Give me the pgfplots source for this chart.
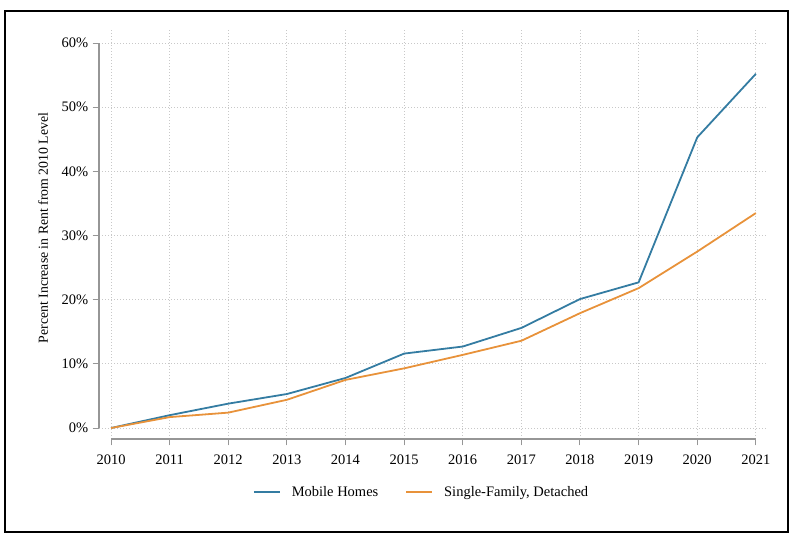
\documentclass[border=0pt]{standalone}
\usepackage{pgfplots}
\pgfplotsset{compat=1.18}
\usepackage{fontspec}
\setmainfont{Liberation Serif}
\definecolor{mblue}{RGB}{52,124,162}
\definecolor{morange}{RGB}{232,146,58}
\definecolor{axgray}{RGB}{150,150,150}
\definecolor{gridgray}{RGB}{200,200,200}
\begin{document}
\begin{tikzpicture}[x=1pt,y=1pt]
\useasboundingbox (0,0) rectangle (794,540);
\draw[black, line width=1.3pt] (5,8) rectangle (788,529);
\begin{axis}[
  at={(99pt,101pt)}, anchor=south west,
  scale only axis, width=668pt, height=409pt,
  xmin=2009.795, xmax=2021.19,
  ymin=-1.71, ymax=62.03,
  axis x line*=bottom, axis y line*=left,
  axis line style={draw=none},
  xtick={2010,...,2021},
  ytick={0,10,...,60},
  xticklabel={\pgfmathprintnumber[1000 sep={}]{\tick}},
  yticklabel={\pgfmathprintnumber{\tick}\%},
  /pgf/number format/assume math mode=true,
  tick align=outside,
  major tick length=6.5pt,
  tick style={axgray, line width=1pt},
  ticklabel style={font=\fontsize{14.5}{16}\selectfont},
  xticklabel style={inner sep=0pt, anchor=north, yshift=-9pt},
  yticklabel style={inner sep=0pt, anchor=east, xshift=-4pt},
  grid=major,
  major grid style={gridgray, line width=0.8pt, dash pattern=on 1pt off 2pt},
  ylabel={Percent Increase in Rent from 2010 Level},
  ylabel style={at={(axis description cs:-0.0838,0.516)}, anchor=center, font=\fontsize{13.8}{15}\selectfont},
  legend columns=2,
  legend style={draw=none, fill=none, at={(axis description cs:0.2305,-0.1289)}, anchor=west,
    inner sep=0pt, outer sep=0pt, font=\fontsize{14.5}{16}\selectfont,
    nodes={inner sep=0pt, anchor=west},
    /tikz/every odd column/.append style={column sep=11pt},
    /tikz/every even column/.append style={column sep=27pt}},
  legend image code/.code={\draw[#1] (0pt,0pt) -- (26pt,0pt);},
  clip=false,
]
\addplot[mblue, line width=1.8pt] coordinates {
(2010,0) (2011,2.0) (2012,3.8) (2013,5.3) (2014,7.8) (2015,11.6)
(2016,12.7) (2017,15.6) (2018,20.1) (2019,22.7) (2020,45.3) (2021,55.2)};
\addlegendentry{Mobile Homes}
\addplot[morange, line width=1.8pt] coordinates {
(2010,0) (2011,1.7) (2012,2.4) (2013,4.4) (2014,7.5) (2015,9.3)
(2016,11.4) (2017,13.6) (2018,17.9) (2019,21.8) (2020,27.5) (2021,33.5)};
\addlegendentry{Single-Family, Detached}
\draw[axgray, line width=1.2pt] (axis cs:2009.795,0) -- (axis cs:2009.795,60);
\draw[axgray, line width=1.2pt] (axis cs:2010,-1.71) -- (axis cs:2021,-1.71);
\end{axis}
\end{tikzpicture}
\end{document}
